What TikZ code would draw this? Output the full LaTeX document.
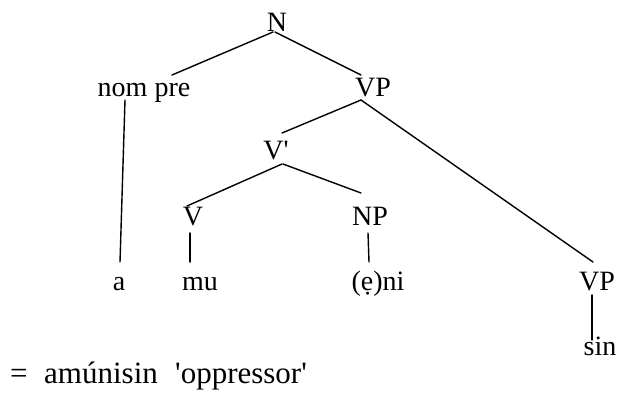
\documentclass[tikz,border=0pt]{standalone}
\usepackage{fontspec}
\setmainfont{Liberation Serif}
\begin{document}
\begin{tikzpicture}[x=1pt,y=-1pt,
  lbl/.style={inner sep=0pt, anchor=base, font=\fontsize{28}{34}\selectfont},
  txt/.style={inner sep=0pt, anchor=base west, font=\fontsize{31}{36}\selectfont},
  edge/.style={line width=1.4pt, line cap=round}]
\useasboundingbox (0,0) rectangle (617,392);

% tree labels, placed by their baselines
\node[lbl] (N)      at (277,31)  {N};
\node[lbl] (nompre) at (144,96)  {nom pre};
\node[lbl] (VP)     at (373,96)  {VP};
\node[lbl] (Vbar)   at (276,159) {V\textquotesingle};
\node[lbl] (V)      at (193,225) {V};
\node[lbl] (NP)     at (370,225) {NP};
\node[lbl] (a)      at (119,290) {a};
\node[lbl] (mu)     at (200,290) {mu};
\node[lbl] (eni)    at (378,290) {(ẹ)ni};
\node[lbl] (VPb)    at (597,290) {VP};
\node[lbl] (sin)    at (600,355) {sin};

% gloss line
\node[txt] (eq)    at (10,383)  {=};
\node[txt] (word)  at (44,383)  {amúnisin};
\node[txt] (gloss) at (175,383) {\textquotesingle oppressor\textquotesingle};

% branches
\draw[edge] ([shift={(-4,1)}]N.base)      -- ([shift={(28,-21)}]nompre.base);
\draw[edge] ([shift={(-2,1)}]N.base)      -- ([shift={(-12,-21)}]VP.base);
\draw[edge] ([shift={(-19,4)}]nompre.base) -- ([shift={(1,-28)}]a.base);
\draw[edge] ([shift={(-12,4)}]VP.base)    -- ([shift={(6,-26)}]Vbar.base);
\draw[edge] ([shift={(-12,4)}]VP.base)    -- ([shift={(-4,-28)}]VPb.base);
\draw[edge] ([shift={(6,5)}]Vbar.base)    -- ([shift={(-6,-19)}]V.base);
\draw[edge] ([shift={(7,5)}]Vbar.base)    -- ([shift={(-9,-32)}]NP.base);
\draw[edge] ([shift={(-3,8)}]V.base)      -- ([shift={(-10,-28)}]mu.base);
\draw[edge] ([shift={(-2,8)}]NP.base)     -- ([shift={(-9,-28)}]eni.base);
\draw[edge] ([shift={(-5,5)}]VPb.base)    -- ([shift={(-8,-15)}]sin.base);
\end{tikzpicture}
\end{document}
